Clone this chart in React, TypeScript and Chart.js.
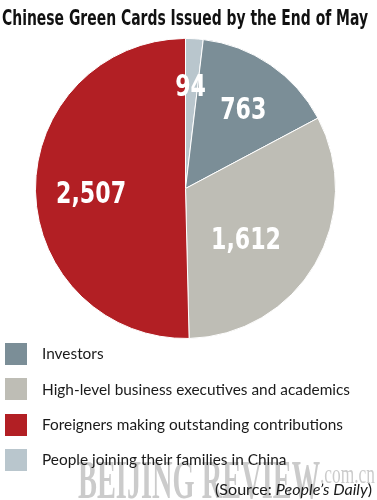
import React, { useEffect, useRef } from "react";
import { Chart, registerables } from "chart.js";

Chart.register(...registerables);

// ---- data ----
const TITLE = "Chinese Green Cards Issued by the End of May";
const categories = [
  "People joining their families in China",
  "Investors",
  "High-level business executives and academics",
  "Foreigners making outstanding contributions",
];
const values = [94, 763, 1612, 2507];
const valueLabels = ["94", "763", "1,612", "2,507"];
const colors = ["#b9c6cd", "#7b8e97", "#bebdb5", "#b21f24"];
const legendOrder = [1, 2, 3, 0];
const SOURCE_PREFIX = "(Source: ";
const SOURCE_NAME = "People\u2019s Daily";
const SOURCE_SUFFIX = ")";
const WATERMARK_MAIN = "BEIJING REVIEW";
const WATERMARK_SUB = ".com.cn";

// ---- text helpers ----
let mctx: CanvasRenderingContext2D | null = null;
function ctx2d() {
  if (!mctx) mctx = document.createElement("canvas").getContext("2d");
  return mctx!;
}
type Part = { text: string; italic?: boolean };
function fontStr(size: number, family: string, weight: string | number, italic?: boolean) {
  return `${italic ? "italic " : ""}${weight} ${size}px ${family}`;
}
function measureParts(parts: Part[], size: number, family: string, weight: string | number) {
  const c = ctx2d();
  let total = 0;
  let asc = 0;
  let desc = 0;
  for (const p of parts) {
    c.font = fontStr(size, family, weight, p.italic);
    const m = c.measureText(p.text);
    total += m.width;
    asc = Math.max(asc, m.fontBoundingBoxAscent || size * 0.9);
    desc = Math.max(desc, m.fontBoundingBoxDescent || size * 0.25);
  }
  return { total, asc, desc };
}

function TextAt(props: {
  parts: Part[];
  family: string;
  weight?: string | number;
  size: number;
  x: number;
  baseline: number;
  width?: number;
  scale?: number;
  anchor?: "left" | "right" | "center";
  color?: string;
  z?: number;
}) {
  const { parts, family, size, x, baseline, width, anchor = "left", color = "#111", z = 2 } = props;
  const weight = props.weight ?? 400;
  const { total, asc, desc } = measureParts(parts, size, family, weight);
  const sc = props.scale ?? (width ? width / total : 1);
  const w = total * sc;
  const left = anchor === "left" ? x : anchor === "right" ? x - w : x - w / 2;
  const L = size * 1.4;
  const top = baseline - ((L - (asc + desc)) / 2 + asc);
  return (
    <div
      style={{
        position: "absolute",
        left,
        top,
        whiteSpace: "nowrap",
        fontFamily: family,
        fontWeight: weight as any,
        fontSize: size,
        lineHeight: `${L}px`,
        color,
        transform: `scaleX(${sc})`,
        transformOrigin: "left top",
        zIndex: z,
      }}
    >
      {parts.map((p, i) => (
        <span key={i} style={{ fontStyle: p.italic ? "italic" : "normal" }}>
          {p.text}
        </span>
      ))}
    </div>
  );
}

// ---- value label plugin ----
const labelPlugin = {
  id: "sliceLabels",
  afterDatasetsDraw(chart: any, _args: any, opts: any) {
    const meta = chart.getDatasetMeta(0);
    const c: CanvasRenderingContext2D = chart.ctx;
    c.save();
    c.fillStyle = opts.color;
    c.font = opts.font;
    c.textAlign = "center";
    c.textBaseline = "alphabetic";
    meta.data.forEach((arc: any, i: number) => {
      const p = arc.getProps(["x", "y", "startAngle", "endAngle", "outerRadius"], true);
      const adj = opts.adjust[i] || { r: 0.65, a: 0 };
      const ang = (p.startAngle + p.endAngle) / 2 + (adj.a * Math.PI) / 180;
      const px = p.x + Math.cos(ang) * p.outerRadius * adj.r;
      const py = p.y + Math.sin(ang) * p.outerRadius * adj.r;
      c.save();
      c.translate(px, py + opts.capHeight / 2);
      c.scale(opts.scaleX, 1);
      c.fillText(valueLabels[i], 0, 0);
      c.restore();
    });
    c.restore();
  },
};

export default function App() {
  const ref = useRef<HTMLCanvasElement>(null);

  useEffect(() => {
    document.body.style.margin = "0";
    const chart = new Chart(ref.current!, {
      type: "pie",
      data: {
        labels: categories,
        datasets: [
          {
            data: values,
            backgroundColor: colors,
            borderColor: "#ffffff",
            borderWidth: 1,
          },
        ],
      },
      options: {
        responsive: false,
        animation: false,
        events: [],
        layout: { padding: { left: 35, right: 41, top: 38, bottom: 161 } },
        plugins: {
          legend: { display: false },
          tooltip: { enabled: false },
          title: { display: false },
          sliceLabels: {
            color: "#ffffff",
            font: "bold 30px 'DejaVu Sans Condensed', 'DejaVu Sans', sans-serif",
            capHeight: 22,
            scaleX: 0.82,
            adjust: [
              { r: 0.69, a: -0.6 },
              { r: 0.66, a: 1.3 },
              { r: 0.52, a: 8.8 },
              { r: 0.63, a: -1.5 },
            ],
          },
        } as any,
      },
      plugins: [labelPlugin as any],
    });
    return () => chart.destroy();
  }, []);

  const legendFamily = "Lato, 'Noto Sans', sans-serif";
  const longest = categories.reduce((a, b) => (a.length > b.length ? a : b));
  const legendScale = 308 / measureParts([{ text: longest }], 16, legendFamily, 400).total;
  const rowTops = [343, 378.3, 413.6, 449];

  return (
    <div style={{ position: "absolute", left: 0, top: 0, width: 377, height: 500, background: "#fff", overflow: "hidden" }}>
      <canvas ref={ref} width={377} height={500} style={{ position: "absolute", left: 0, top: 0, zIndex: 0 }} />
      <TextAt
        parts={[{ text: TITLE }]}
        family="'DejaVu Sans Condensed', 'DejaVu Sans', sans-serif"
        weight="bold"
        size={22}
        x={185}
        baseline={26}
        width={366}
        anchor="center"
        color="#111"
      />
      {legendOrder.map((ci, k) => (
        <React.Fragment key={ci}>
          <div
            style={{
              position: "absolute",
              left: 5,
              top: rowTops[k],
              width: 22,
              height: 22,
              background: colors[ci],
              zIndex: 2,
            }}
          />
          <TextAt
            parts={[{ text: categories[ci] }]}
            family={legendFamily}
            size={16}
            x={42}
            baseline={rowTops[k] + 17}
            scale={legendScale}
            color="#1a1a1a"
          />
        </React.Fragment>
      ))}
      <TextAt
        parts={[{ text: WATERMARK_MAIN }]}
        family="'Liberation Serif', 'DejaVu Serif', serif"
        weight="bold"
        size={54}
        x={78}
        baseline={499}
        width={242}
        color="rgba(140,140,140,0.45)"
        z={1}
      />
      <TextAt
        parts={[{ text: WATERMARK_SUB }]}
        family="'Liberation Serif', 'DejaVu Serif', serif"
        size={28}
        x={320}
        baseline={483}
        width={55}
        color="rgba(140,140,140,0.45)"
        z={1}
      />
      <TextAt
        parts={[{ text: SOURCE_PREFIX }, { text: SOURCE_NAME, italic: true }, { text: SOURCE_SUFFIX }]}
        family={legendFamily}
        size={16}
        x={372}
        baseline={496}
        width={157}
        anchor="right"
        color="#1a1a1a"
      />
    </div>
  );
}
